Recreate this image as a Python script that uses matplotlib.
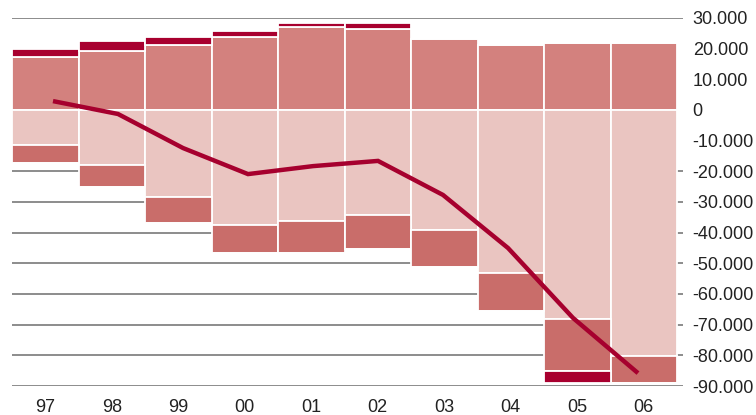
import matplotlib
matplotlib.use("Agg")
import matplotlib.pyplot as plt
import numpy as np
from matplotlib.ticker import FuncFormatter

# Jahre und Werte
years = ["97", "98", "99", "00", "01", "02", "03", "04", "05", "06"]
pos_main = [17300, 19200, 21200, 23800, 27100, 26400, 23100, 21200, 21800, 21800]
pos_top = [2600, 3300, 2600, 2000, 1300, 2000, 0, 0, 0, 0]
neg_light = [-11400, -17900, -28400, -37500, -36200, -34200, -39100, -53100, -68100, -80200]
neg_mid = [-5900, -7200, -8400, -9100, -10400, -11100, -12100, -12400, -17000, -8800]
neg_dark = [0, 0, 0, 0, 0, 0, 0, 0, -3900, 0]
saldo = [2900, -1300, -12400, -20900, -18300, -16600, -27700, -45000, -67800, -85800]

C_POS = "#d3817e"
C_LIGHT = "#eac5c1"
C_MID = "#c96d6a"
C_DARK = "#a8002f"
C_LINE = "#a6002e"
C_GRID = "#8c8c8c"
C_TEXT = "#222222"

plt.rcParams["font.family"] = ["Liberation Sans", "DejaVu Sans"]

fig = plt.figure(figsize=(7.56, 4.15), dpi=100)
ax = fig.add_axes([12 / 756, 29 / 415, (683 - 12) / 756, (386 - 18) / 415])

x = np.arange(len(years))
edge = dict(edgecolor="white", linewidth=1.3, width=1.0, zorder=2)

# Gitterlinien
for v in [30000, -20000, -30000, -40000, -50000, -60000, -70000, -80000, -90000]:
    ax.axhline(v, color=C_GRID, lw=1.4, zorder=1)

ax.bar(x, pos_main, color=C_POS, **edge)
ax.bar(x, pos_top, bottom=pos_main, color=C_DARK, **edge)
ax.bar(x, neg_light, color=C_LIGHT, **edge)
ax.bar(x, neg_mid, bottom=neg_light, color=C_MID, **edge)
bottom2 = np.array(neg_light) + np.array(neg_mid)
ax.bar(x, neg_dark, bottom=bottom2, color=C_DARK, **edge)

# Linie leicht gestaucht wie im Original
xl = 0.1165 + 0.9774 * x
ax.plot(xl, saldo, color=C_LINE, lw=3.2, solid_capstyle="butt",
        solid_joinstyle="miter", zorder=3)

ax.set_xlim(-0.5, 9.59)
ax.set_ylim(-90000, 30000)
ax.set_yticks(np.arange(-90000, 30001, 10000))
ax.yaxis.set_major_formatter(FuncFormatter(lambda v, p: f"{int(v):,}".replace(",", ".")))
ax.yaxis.tick_right()
ax.tick_params(axis="y", length=0, pad=7, labelsize=13, labelcolor=C_TEXT)
ax.set_xticks(x)
ax.set_xticklabels(years)
ax.tick_params(axis="x", length=0, pad=9, labelsize=13, labelcolor=C_TEXT)
for s in ax.spines.values():
    s.set_visible(False)

fig.savefig("out.png", dpi=100)
